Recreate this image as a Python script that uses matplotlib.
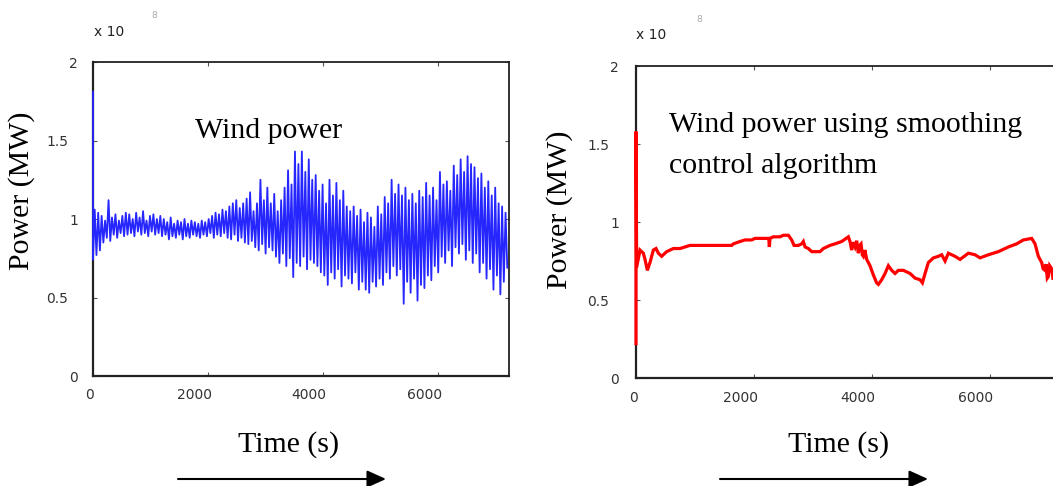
import numpy as np
import matplotlib
matplotlib.use("Agg")
import matplotlib.pyplot as plt
from matplotlib.patches import FancyArrowPatch
from matplotlib.transforms import ScaledTranslation

# ---------------------------------------------------------------- data
# Power values are in units of 1e8 (the axis multiplier shown as "x 10^8").
sample_step = 30  # s

# first entry is the start-up spike at t = 0, then one value every 30 s
wind_power = [
    1.81,
    0.74, 1.06, 0.77, 1.04, 0.80, 1.02, 0.85, 0.99, 0.88, 1.12,
    0.86, 1.01, 0.90, 1.03, 0.88, 0.99, 0.91, 1.02, 0.89, 1.04,
    0.90, 1.03, 0.91, 1.00, 0.89, 1.04, 0.92, 1.01, 0.90, 1.05,
    0.91, 0.99, 0.89, 1.02, 0.92, 1.03, 0.90, 1.00, 0.91, 1.02,
    0.89, 1.00, 0.90, 0.98, 0.87, 1.01, 0.89, 0.97, 0.88, 0.99,
    0.90, 0.98, 0.87, 1.00, 0.89, 0.97, 0.88, 0.99, 0.90, 0.98,
    0.89, 0.97, 0.88, 0.99, 0.90, 0.98, 0.89, 1.00, 0.91, 1.02,
    0.88, 1.04, 0.90, 1.03, 0.89, 1.06, 0.91, 1.05, 0.88, 1.08,
    0.87, 1.10, 0.90, 1.12, 0.86, 1.07, 0.88, 1.10, 0.85, 1.13,
    0.84, 1.17, 0.86, 1.05, 0.82, 1.10, 0.80, 1.25, 0.84, 1.12,
    0.78, 1.20, 0.82, 1.10, 0.80, 1.16, 0.76, 1.05, 0.72, 1.12,
    0.78, 1.20, 0.70, 1.31, 0.75, 1.22, 0.63, 1.43, 0.72, 1.35,
    0.70, 1.43, 0.76, 1.30, 0.68, 1.38, 0.74, 1.25, 0.72, 1.28,
    0.70, 1.18, 0.66, 1.22, 0.64, 1.10, 0.58, 1.25, 0.66, 1.15,
    0.62, 1.23, 0.68, 1.12, 0.57, 1.18, 0.64, 1.08, 0.62, 1.05,
    0.59, 1.08, 0.66, 1.02, 0.55, 1.06, 0.60, 0.98, 0.55, 1.04,
    0.53, 1.01, 0.60, 0.95, 0.57, 1.08, 0.62, 1.03, 0.58, 1.14,
    0.66, 1.10, 0.62, 1.25, 0.70, 1.16, 0.64, 1.22, 0.68, 1.15,
    0.46, 1.20, 0.60, 1.12, 0.53, 1.16, 0.62, 1.10, 0.48, 1.18,
    0.58, 1.14, 0.56, 1.23, 0.64, 1.15, 0.61, 1.20, 0.70, 1.12,
    0.66, 1.30, 0.76, 1.22, 0.72, 1.24, 0.80, 1.18, 0.70, 1.34,
    0.82, 1.28, 0.78, 1.38, 0.84, 1.30, 0.74, 1.40, 0.80, 1.35,
    0.72, 1.33, 0.78, 1.26, 0.66, 1.29, 0.72, 1.20, 0.62, 1.24,
    0.68, 1.15, 0.55, 1.20, 0.64, 1.10, 0.52, 1.08, 0.60, 1.04,
    0.69,
]

smoothed_time = [
    0, 0, 11, 68, 124, 153, 192, 237, 294, 339,
    379, 435, 520, 633, 746, 915, 1622, 1650, 1763, 1848,
    1961, 2017, 2158, 2250, 2260, 2271, 2328, 2441, 2497, 2582,
    2638, 2678, 2751, 2808, 2836, 2865, 2921, 2978, 3119, 3175,
    3288, 3373, 3486, 3599, 3627, 3655, 3680, 3712, 3740, 3768,
    3790, 3814, 3835, 3853, 3880, 3910, 3966, 4023, 4079, 4108,
    4164, 4221, 4277, 4334, 4390, 4447, 4532, 4588, 4645, 4730,
    4814, 4854, 4899, 4955, 5040, 5125, 5181, 5238, 5294, 5407,
    5492, 5633, 5746, 5831, 5972, 6142, 6311, 6452, 6565, 6706,
    6763, 6819, 6876, 6900, 6932, 6950, 6970, 6988, 7010, 7045,
    7070, 7100, 7130, 7230,
]
smoothed_power = [
    0.22, 1.58, 0.71, 0.82, 0.80, 0.76, 0.69, 0.74, 0.82, 0.83,
    0.80, 0.78, 0.81, 0.83, 0.83, 0.85, 0.85, 0.86, 0.875, 0.885,
    0.885, 0.895, 0.895, 0.895, 0.84, 0.895, 0.905, 0.905, 0.915, 0.915,
    0.885, 0.85, 0.85, 0.86, 0.875, 0.84, 0.83, 0.81, 0.81, 0.83,
    0.85, 0.86, 0.875, 0.905, 0.875, 0.82, 0.87, 0.84, 0.88, 0.80,
    0.85, 0.86, 0.79, 0.78, 0.82, 0.76, 0.72, 0.66, 0.61, 0.60,
    0.63, 0.67, 0.72, 0.69, 0.67, 0.69, 0.69, 0.68, 0.67, 0.64,
    0.63, 0.61, 0.67, 0.74, 0.77, 0.78, 0.79, 0.75, 0.80, 0.78,
    0.76, 0.80, 0.79, 0.77, 0.79, 0.81, 0.84, 0.86, 0.885, 0.895,
    0.86, 0.78, 0.74, 0.70, 0.69, 0.73, 0.64, 0.65, 0.72, 0.70,
    0.63, 0.66, 0.71, 0.68,
]

x_ticks = [0, 2000, 4000, 6000]
x_tick_labels = ["0", "2000", "4000", "6000"]
y_ticks = [0, 0.5, 1, 1.5, 2]
y_tick_labels = ["0", "0.5", "1", "1.5", "2"]

# ---------------------------------------------------------------- figure
W, H, DPI = 1053, 486, 100
fig = plt.figure(figsize=(W / DPI, H / DPI), dpi=DPI)
fig.patch.set_facecolor("white")


def fx(px):
    return px / W


def fy(py):
    return 1 - py / H


SERIF = "Liberation Serif"
SANS = "DejaVu Sans"
BIG = 21.5


def shift(text, dx, dy=0):
    text.set_transform(text.get_transform()
                       + ScaledTranslation(dx / DPI, dy / DPI, fig.dpi_scale_trans))


def style_axes(ax, ypad, xpad):
    ax.set_xlim(0, 7230)
    ax.set_ylim(0, 2)
    ax.set_xticks(x_ticks)
    ax.set_xticklabels(x_tick_labels, family=SANS)
    ax.set_yticks(y_ticks)
    ax.set_yticklabels(y_tick_labels, family=SANS)
    ax.tick_params(direction="in", length=3, width=0.8, color="#555",
                   top=True, right=True, labelsize=10, labelcolor="#333")
    ax.tick_params(axis="y", pad=ypad)
    ax.tick_params(axis="x", pad=xpad)
    for side, sp in ax.spines.items():
        sp.set_color("#222")
        sp.set_linewidth(1.6 if side in ("left", "bottom") else 1.3)
    for lbl in ax.get_xticklabels():
        shift(lbl, -3 if lbl.get_text() == "0" else -14)
    for lbl in ax.get_yticklabels():
        if "." in lbl.get_text():
            shift(lbl, -10)


# left panel: raw wind power
ax1 = fig.add_axes([fx(93), fy(376), (509 - 93) / W, (376 - 62) / H])
wind_time = np.r_[0.0, np.arange(len(wind_power) - 1) * sample_step]
ax1.plot(wind_time, wind_power, color=(0.15, 0.15, 1.0), lw=1.3, zorder=3,
         clip_on=False)
style_axes(ax1, ypad=10.8, xpad=8.6)

# right panel: smoothed wind power (runs past the right edge)
ax2 = fig.add_axes([fx(636), fy(378), 426.6 / W, (378 - 66) / H])
ax2.plot(smoothed_time, smoothed_power, color="red", lw=2.3, zorder=3,
         solid_joinstyle="miter", clip_on=False)
style_axes(ax2, ypad=12.2, xpad=9.4)

# exponent markers
for x0, y0, xe, ye in [(94, 32, 151, 16), (636, 35, 696, 19)]:
    fig.text(fx(x0), fy(y0), "x 10", family=SANS, size=10, color="#222",
             ha="left", va="center")
    fig.text(fx(xe), fy(ye), "8", family=SANS, size=6.5, color="#aaa",
             ha="left", va="center")

# in-plot captions
fig.text(fx(269), fy(138), "Wind power", family=SERIF, size=BIG,
         ha="center", va="baseline")
fig.text(fx(669), fy(132), "Wind power using smoothing", family=SERIF,
         size=BIG, ha="left", va="baseline")
fig.text(fx(669), fy(173), "control algorithm", family=SERIF, size=BIG,
         ha="left", va="baseline")

# axis titles
fig.text(fx(22), fy(191), "Power (MW)", family=SERIF, size=BIG, rotation=90,
         ha="center", va="center")
fig.text(fx(560), fy(210), "Power (MW)", family=SERIF, size=BIG, rotation=90,
         ha="center", va="center")
fig.text(fx(289), fy(452), "Time (s)", family=SERIF, size=BIG,
         ha="center", va="baseline")
fig.text(fx(839), fy(452), "Time (s)", family=SERIF, size=BIG,
         ha="center", va="baseline")

# time-direction arrows
for x_start, x_end in [(178, 386), (720, 928)]:
    arrow = FancyArrowPatch(
        (fx(x_start), fy(479)), (fx(x_end), fy(479)),
        transform=fig.transFigure,
        arrowstyle="-|>,head_length=11.5,head_width=5.2",
        mutation_scale=1, lw=1.5, color="black",
        shrinkA=0, shrinkB=0)
    fig.add_artist(arrow)

fig.savefig("out.png", dpi=DPI)
